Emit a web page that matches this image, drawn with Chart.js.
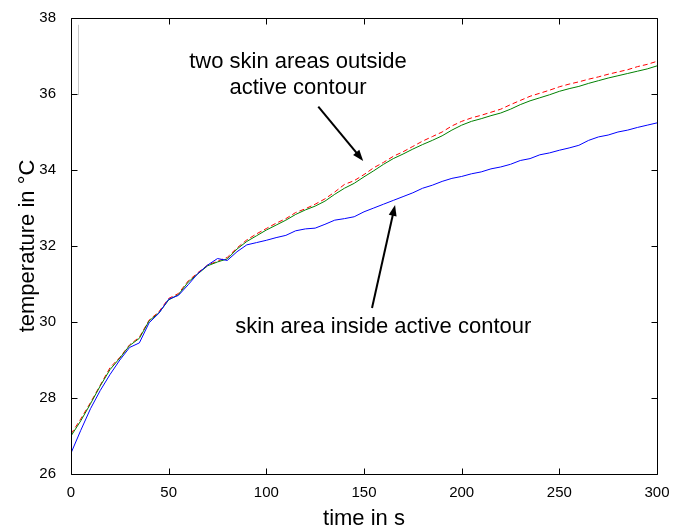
<!DOCTYPE html>
<html>
<head>
<meta charset="utf-8">
<script src="https://cdn.jsdelivr.net/npm/chart.js@4.4.0/dist/chart.umd.min.js"></script>
<style>
html, body { margin: 0; padding: 0; background: #fff; }
</style>
</head>
<body>
<canvas id="Chart1" width="682" height="529"></canvas>
<script>
var timeSec = [0,5,10,15,20,25,30,35,40,45,50,55,60,65,70,75,80,85,90,95,100,105,110,115,120,125,130,135,140,145,150,155,160,165,170,175,180,185,190,195,200,205,210,215,220,225,230,235,240,245,250,255,260,265,270,275,280,285,290,295,300];

// skin area inside active contour (blue)
var insideTemp = [26.55,27.15,27.72,28.2,28.62,29.0,29.33,29.45,29.98,30.23,30.6,30.7,30.98,31.28,31.5,31.67,31.62,31.85,32.03,32.09,32.15,32.22,32.28,32.4,32.45,32.47,32.57,32.68,32.72,32.77,32.9,33.0,33.1,33.2,33.3,33.4,33.52,33.6,33.7,33.78,33.83,33.9,33.95,34.03,34.08,34.15,34.25,34.3,34.4,34.45,34.52,34.58,34.65,34.78,34.87,34.92,35.0,35.05,35.12,35.18,35.24];

// two skin areas outside active contour (red dashed, green)
var outsideTempA = [27.05,27.45,27.88,28.34,28.8,29.07,29.4,29.6,30.05,30.27,30.62,30.75,31.08,31.3,31.5,31.6,31.7,31.95,32.16,32.32,32.46,32.6,32.72,32.88,32.98,33.1,33.24,33.42,33.62,33.72,33.88,34.06,34.2,34.36,34.48,34.62,34.76,34.88,35.0,35.16,35.28,35.37,35.44,35.52,35.6,35.72,35.83,35.94,36.02,36.1,36.19,36.26,36.32,36.39,36.45,36.52,36.58,36.64,36.72,36.78,36.86];
var outsideTempB = [27.0,27.4,27.85,28.32,28.75,29.05,29.38,29.57,30.03,30.24,30.58,30.72,31.05,31.27,31.48,31.58,31.66,31.92,32.12,32.27,32.42,32.55,32.68,32.83,32.95,33.05,33.18,33.36,33.52,33.65,33.82,33.98,34.15,34.3,34.42,34.55,34.67,34.78,34.9,35.05,35.18,35.28,35.35,35.43,35.5,35.6,35.72,35.82,35.9,35.98,36.07,36.14,36.2,36.28,36.35,36.42,36.48,36.54,36.6,36.66,36.74];

var xTicks = [0,50,100,150,200,250,300];
var yTicks = [26,28,30,32,34,36,38];

var fontName = '"Liberation Sans", Arial, Helvetica, sans-serif';

function toPoints(ys) {
    return timeSec.map(function (t, i) { return {x: t, y: ys[i]}; });
}

// text + arrows, placed in data units
var notes = [
    {lines: ["two skin areas outside", "active contour"], x: 116.2, y: 36.68},
    {lines: ["skin area inside active contour"], x: 159.9, y: 29.71}
];
var arrows = [
    {from: [126.6, 35.67], to: [149.6, 34.24]},
    {from: [154.1, 30.37], to: [165.9, 33.08]}
];

var matlabFrame = {
    id: 'matlabFrame',
    afterDraw: function (chart) {
        var ctx = chart.ctx;
        var a = chart.chartArea;
        var sx = chart.scales.x, sy = chart.scales.y;
        var tick = 6;
        ctx.save();

        // faint grey stroke near top-left corner
        ctx.strokeStyle = '#c8c8c8';
        ctx.lineWidth = 1;
        ctx.beginPath();
        ctx.moveTo(Math.round(sx.getPixelForValue(3.4)) + 0.5, sy.getPixelForValue(37.82));
        ctx.lineTo(Math.round(sx.getPixelForValue(3.4)) + 0.5, sy.getPixelForValue(35.97));
        ctx.stroke();

        ctx.strokeStyle = '#000';
        ctx.lineWidth = 1;
        var l = Math.round(a.left) + 0.5, r = Math.round(a.right) + 0.5;
        var t = Math.round(a.top) + 0.5, b = Math.round(a.bottom) + 0.5;
        ctx.beginPath();
        ctx.rect(l, t, r - l, b - t);
        xTicks.forEach(function (v) {
            var px = Math.round(sx.getPixelForValue(v)) + 0.5;
            ctx.moveTo(px, b); ctx.lineTo(px, b - tick);
            ctx.moveTo(px, t); ctx.lineTo(px, t + tick);
        });
        yTicks.forEach(function (v) {
            var py = Math.round(sy.getPixelForValue(v)) + 0.5;
            ctx.moveTo(l, py); ctx.lineTo(l + tick, py);
            ctx.moveTo(r, py); ctx.lineTo(r - tick, py);
        });
        ctx.stroke();

        ctx.fillStyle = '#000';
        ctx.font = '22px ' + fontName;
        ctx.textAlign = 'center';
        ctx.textBaseline = 'alphabetic';
        notes.forEach(function (n) {
            var px = sx.getPixelForValue(n.x), py = sy.getPixelForValue(n.y);
            n.lines.forEach(function (s, i) {
                ctx.fillText(s, px, py + i * 25.7);
            });
        });

        arrows.forEach(function (ar) {
            var x0 = sx.getPixelForValue(ar.from[0]), y0 = sy.getPixelForValue(ar.from[1]);
            var x1 = sx.getPixelForValue(ar.to[0]), y1 = sy.getPixelForValue(ar.to[1]);
            var ang = Math.atan2(y1 - y0, x1 - x0);
            var len = 11, half = 4;
            ctx.lineWidth = 2;
            ctx.beginPath();
            ctx.moveTo(x0, y0);
            ctx.lineTo(x1 - Math.cos(ang) * len * 0.8, y1 - Math.sin(ang) * len * 0.8);
            ctx.stroke();
            ctx.beginPath();
            ctx.moveTo(x1, y1);
            ctx.lineTo(x1 - Math.cos(ang) * len + Math.sin(ang) * half, y1 - Math.sin(ang) * len - Math.cos(ang) * half);
            ctx.lineTo(x1 - Math.cos(ang) * len - Math.sin(ang) * half, y1 - Math.sin(ang) * len + Math.cos(ang) * half);
            ctx.closePath();
            ctx.fill();
        });
        ctx.restore();
    }
};

var ctx = document.getElementById('Chart1').getContext('2d');
var chart = new Chart(ctx, {
    type: 'line',
    data: {
        datasets: [{
            label: 'inside',
            data: toPoints(insideTemp),
            borderColor: '#0000ff',
            borderWidth: 1
        }, {
            label: 'outside 2',
            data: toPoints(outsideTempB),
            borderColor: '#008000',
            borderWidth: 1
        }, {
            label: 'outside 1',
            data: toPoints(outsideTempA),
            borderColor: '#ff0000',
            borderWidth: 1,
            borderDash: [5, 3]
        }]
    },
    options: {
        responsive: false,
        animation: false,
        events: [],
        elements: { point: { radius: 0 }, line: { tension: 0 } },
        layout: { padding: { left: 0, right: 25, top: 18, bottom: 0 } },
        plugins: { legend: { display: false }, tooltip: { enabled: false } },
        scales: {
            x: {
                type: 'linear',
                min: 0, max: 300,
                afterBuildTicks: function (s) { s.ticks = xTicks.map(function (v) { return {value: v}; }); },
                afterFit: function (s) { s.height = 55; },
                grid: { display: false },
                border: { display: false },
                ticks: { color: '#000', font: { family: fontName, size: 15 }, padding: 2, maxRotation: 0 },
                title: { display: true, text: 'time in s', color: '#000', font: { family: fontName, size: 22, lineHeight: 0.9 }, padding: 0 }
            },
            y: {
                min: 26, max: 38,
                afterBuildTicks: function (s) { s.ticks = yTicks.map(function (v) { return {value: v}; }); },
                afterFit: function (s) { s.width = 71; },
                grid: { display: false },
                border: { display: false },
                ticks: { color: '#000', font: { family: fontName, size: 15 }, padding: 7 },
                title: { display: true, text: 'temperature in °C', color: '#000', font: { family: fontName, size: 22, lineHeight: 0.9 }, padding: { top: 18, bottom: 0 } }
            }
        }
    },
    plugins: [matlabFrame]
});
</script>
</body>
</html>
